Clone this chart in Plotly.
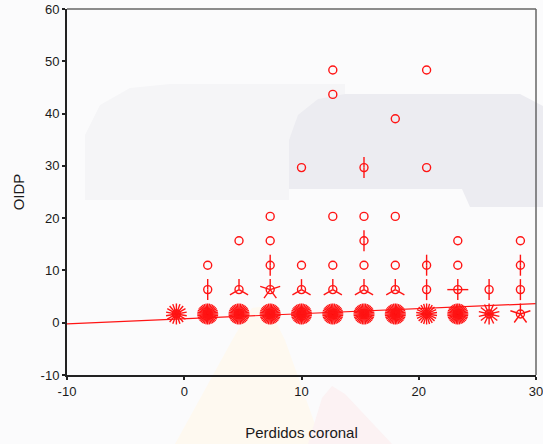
import numpy as np
import plotly.graph_objects as go

# Sunflower cells: bin centres and number of cases in each cell
sun_x = [-0.67,
         2.0, 2.0, 2.0,
         4.67, 4.67, 4.67,
         7.33, 7.33, 7.33, 7.33, 7.33,
         10.0, 10.0, 10.0, 10.0,
         12.67, 12.67, 12.67, 12.67, 12.67, 12.67,
         15.33, 15.33, 15.33, 15.33, 15.33, 15.33,
         18.0, 18.0, 18.0, 18.0, 18.0,
         20.67, 20.67, 20.67, 20.67, 20.67,
         23.33, 23.33, 23.33, 23.33,
         26.0, 26.0,
         28.67, 28.67, 28.67, 28.67]
sun_y = [1.67,
         1.67, 6.33, 11.0,
         1.67, 6.33, 15.67,
         1.67, 6.33, 11.0, 15.67, 20.33,
         1.67, 6.33, 11.0, 29.67,
         1.67, 6.33, 11.0, 20.33, 43.67, 48.33,
         1.67, 6.33, 11.0, 15.67, 20.33, 29.67,
         1.67, 6.33, 11.0, 20.33, 39.0,
         1.67, 6.33, 11.0, 29.67, 48.33,
         1.67, 6.33, 11.0, 15.67,
         1.67, 6.33,
         1.67, 6.33, 11.0, 15.67]
sun_n = [18,
         36, 2, 1,
         36, 3, 1,
         36, 5, 2, 1, 1,
         36, 3, 1, 1,
         36, 3, 1, 1, 1, 1,
         36, 3, 1, 2, 1, 2,
         36, 3, 1, 1, 1,
         22, 2, 2, 1, 1,
         36, 4, 1, 1,
         14, 2,
         5, 2, 2, 1]

# Linear fit line OIDP = a + b * Perdidos coronal
fit_intercept = 0.75
fit_slope = 0.097

x_range = [-10, 30]
y_range = [-10, 60]
x_ticks = [-10, 0, 10, 20, 30]
y_ticks = [-10, 0, 10, 20, 30, 40, 50, 60]

W, H = 543, 444
margin = dict(l=67, r=7, t=9, b=69)
RED = "#ff1414"
plot_w = W - margin["l"] - margin["r"]
plot_h = H - margin["t"] - margin["b"]

# pixels per data unit, used to give petals a fixed on-screen length
ppx = plot_w / (x_range[1] - x_range[0])
ppy = plot_h / (y_range[1] - y_range[0])
petal_px = 10.5

px, py = [], []
for x, y, n in zip(sun_x, sun_y, sun_n):
    if n < 2:
        continue
    for k in range(n):
        a = np.pi / 2 + 2 * np.pi * k / n
        px += [x, x + petal_px * np.cos(a) / ppx, None]
        py += [y, y + petal_px * np.sin(a) / ppy, None]

fig = go.Figure()

fig.add_trace(go.Scatter(
    x=px, y=py, mode="lines",
    line=dict(color=RED, width=1.4),
    hoverinfo="skip", showlegend=False))

fig.add_trace(go.Scatter(
    x=sun_x, y=sun_y, mode="markers",
    marker=dict(symbol="circle-open", size=8, color=RED,
                line=dict(color=RED, width=1.4)),
    customdata=sun_n,
    hovertemplate="x=%{x}<br>y=%{y}<br>n=%{customdata}<extra></extra>",
    showlegend=False))

fx = np.array(x_range, dtype=float)
fig.add_trace(go.Scatter(
    x=fx, y=fit_intercept + fit_slope * fx, mode="lines",
    line=dict(color=RED, width=1.2),
    hoverinfo="skip", showlegend=False))


# faint background watermark, outlined in page pixels
def wm_path(points):
    pts = [((u - margin["l"]) / plot_w, (margin["t"] + plot_h - v) / plot_h)
           for u, v in points]
    return "M " + " L ".join(f"{a:.4f},{b:.4f}" for a, b in pts) + " Z"


watermark = [
    ([(85, 200), (85, 135), (100, 105), (130, 88), (170, 84), (345, 84),
      (345, 94), (300, 115), (289, 140), (289, 200)], "#f5f5f7"),
    ([(289, 189), (289, 140), (298, 115), (318, 99), (345, 94), (520, 94),
      (543, 106), (543, 207), (470, 207), (462, 189)], "#ececf1"),
    ([(175, 444), (235, 335), (252, 308), (268, 306), (285, 340), (322, 444)], "#fef9f0"),
    ([(308, 444), (322, 398), (332, 386), (345, 394), (392, 444)], "#fcf2f3"),
]
shapes = [dict(type="path", xref="paper", yref="paper", path=wm_path(p),
               fillcolor=c, line=dict(width=0), layer="below")
          for p, c in watermark]
shapes += [
    dict(type="line", xref="paper", yref="paper", x0=0, x1=1, y0=1, y1=1,
         line=dict(color="#666666", width=1.5)),
    dict(type="line", xref="paper", yref="paper", x0=1, x1=1, y0=0, y1=1,
         line=dict(color="#666666", width=1.5)),
]

axis_font = dict(family="Liberation Sans, Arial, sans-serif", size=13, color="#1a1a1a")
title_font = dict(family="Liberation Sans, Arial, sans-serif", size=15, color="#1a1a1a")

fig.update_layout(
    width=W, height=H,
    margin=margin,
    paper_bgcolor="#fbfbfc",
    plot_bgcolor="rgba(0,0,0,0)",
    font=axis_font,
    xaxis=dict(
        range=x_range, tickvals=x_ticks, ticktext=[str(v) for v in x_ticks],
        showgrid=False, zeroline=False,
        automargin=False, ticklabeloverflow="allow",
        showline=True, linecolor="#222222", linewidth=2,
        ticks="outside", ticklen=3, tickwidth=2, tickcolor="#222222",
        tickfont=axis_font,
        title=dict(text="Perdidos coronal", font=title_font, standoff=30)),
    yaxis=dict(
        range=y_range, tickvals=y_ticks, ticktext=[str(v) for v in y_ticks],
        showgrid=False, zeroline=False,
        automargin=False, ticklabeloverflow="allow",
        showline=True, linecolor="#222222", linewidth=2,
        ticks="outside", ticklen=3, tickwidth=2, tickcolor="#222222",
        tickfont=axis_font,
        title=dict(text="OIDP", font=title_font, standoff=12)),
    shapes=shapes,
)

fig.write_html("out.html")
